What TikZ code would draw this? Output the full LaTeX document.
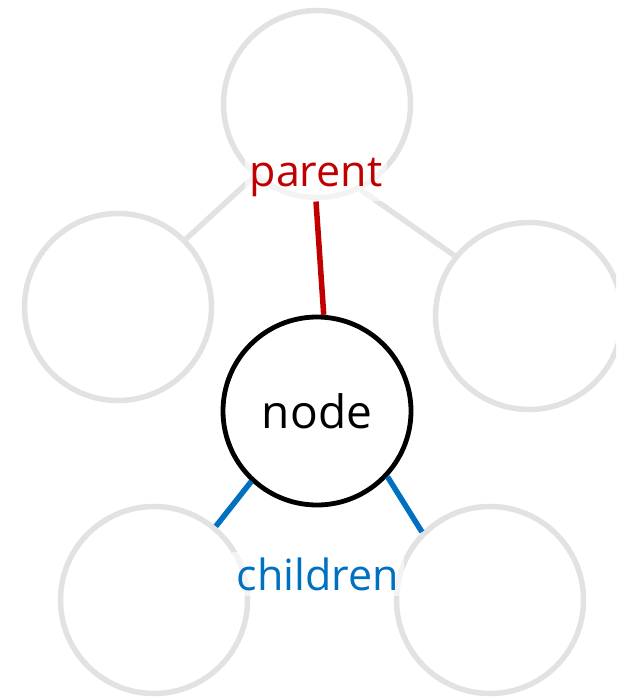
\documentclass[tikz,border=0pt]{standalone}
\usepackage{fontspec}
\setmainfont{Open Sans}
\begin{document}
\begin{tikzpicture}[x=1pt,y=-1pt,
  ghost/.style={circle,draw=ghostgray,line width=5.5pt,minimum size=187pt,inner sep=0pt},
  main/.style={circle,draw=black,line width=4.8pt,minimum size=188pt,inner sep=0pt,font=\fontsize{46}{46}\selectfont},
  ghostline/.style={draw=ghostgray,line width=5.5pt},
  lbl/.style={fill=white,fill opacity=0.6,text opacity=1,inner sep=5pt,font=\fontsize{43}{43}\selectfont}]
\definecolor{ghostgray}{HTML}{E2E2E2}
\definecolor{pred}{HTML}{C00000}
\definecolor{cblue}{HTML}{0070C0}
\useasboundingbox (0,0) rectangle (616,698);
\begin{scope}
\clip (0,0) rectangle (616,698);
\node[ghost] (t) at (317,104) {};
\node[ghost] (l) at (118,307) {};
\node[ghost] (r) at (529,316) {};
\node[ghost] (bl) at (154,600) {};
\node[ghost] (br) at (490,600) {};
\path[ghostline] (t.229) -- (l.45);
\path[ghostline] (t.-63) -- (r.141);
\node[main] (n) at (317,411) {node};
\node[lbl,text=pred] (p) at (316,177) {parent};
\node[lbl,text=cblue] (c) at (318,574) {children};
\draw[pred,line width=5.5pt] (p.south) -- (n.86);
\draw[cblue,line width=5.5pt] (n.227) -- (bl.50);
\draw[cblue,line width=5.5pt] (n.317) -- (br.135);
\end{scope}
\end{tikzpicture}
\end{document}
